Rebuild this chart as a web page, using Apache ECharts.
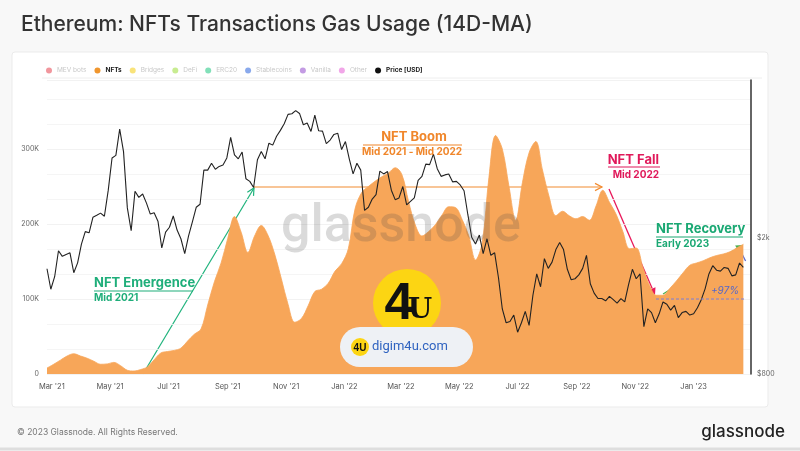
<!DOCTYPE html>
<html><head><meta charset="utf-8">
<script src="https://cdn.jsdelivr.net/npm/echarts@6/dist/echarts.min.js"></script>
<style>html,body{margin:0;padding:0;background:#f8f8f8}#c{width:800px;height:451px}</style>
</head><body><div id="c"></div>
<script>
// ---------- data ----------
const legendNames = ['MEV bots','NFTs','Bridges','DeFi','ERC20','Stablecoins','Vanilla','Other','Price [USD]'];
const legendColors = ['#e8505b','#f0962e','#f5d022','#a3e048','#2ecc8a','#3a6fe0','#9b59d0','#e86ad8','#111111'];
const activeNames = ['NFTs','Price [USD]'];

// NFT transactions gas usage (14D-MA), in thousands, weekly from start date
const nftStart = '2021-02-24';
const nftStepDays = 7;
const nftGasK = [
  8, 13, 18.5, 24, 27, 24, 21, 17, 13, 13.5,
  15.5, 11, 5, 4, 6, 9.5, 19, 28, 30, 31.5,
  34.5, 44, 53, 60, 92, 123, 148, 181, 210, 189,
  162, 184, 198, 185, 160, 127, 93, 69, 74, 91,
  110, 113, 121, 137, 147, 167, 220, 242, 250, 257,
  263, 268, 275, 266, 230, 199, 184, 190, 199, 212,
  223, 222, 206, 184, 152, 175, 262, 318, 300, 250,
  205, 255, 295, 310, 272, 236, 211, 217, 211, 207,
  210, 205, 224, 245, 229, 213, 190, 167, 168, 142,
  118, 105, 105, 114, 124, 135, 145, 148, 151, 155,
  158, 160, 163, 168, 173
];

// ETH price (USD), every 4 days from start date
const priceStart = '2021-02-24';
const priceStepDays = 4;
const priceUsd = [
  1626, 1416,
  1541, 1835, 1768, 1790, 1810, 1583, 1692,
  1919, 2088, 2072, 2300, 2330, 2365, 2316, 2756,
  3430, 3490, 4168, 3580, 2450, 2100, 2740, 2630,
  2690, 2530, 2350, 2370, 2240, 1870, 2080,
  2150, 2320, 2110, 1990, 1800, 2030, 2230, 2460,
  2510, 3160, 3160, 3310, 3180, 3240, 3270, 3430,
  3940, 3500, 3410, 3570, 2980, 2930, 2810,
  3390, 3580, 3410, 3790, 3740, 3970, 4130, 4320,
  4600, 4620, 4720, 4630, 4290, 4340, 4100,
  4580, 4120, 4110, 3780, 3870, 4020, 4050, 3630,
  3830, 3410, 3080, 3310, 3160, 2410, 2460, 2600,
  2680, 3140, 3080, 3130, 2760, 2590, 2620,
  2830, 2500, 2560, 2620, 2950, 3030, 3290, 3280,
  3520, 3190, 3030, 3060, 3080, 2920, 2930,
  2860, 2750, 2340, 2010, 1920, 2040, 1800, 1990,
  1780, 1810, 1530, 1240, 1130, 1140, 1190,
  1060, 1130, 1220, 1110, 1360, 1570, 1440, 1740,
  1630, 1700, 1850, 1940, 1850, 1620, 1510, 1520,
  1560, 1630, 1780, 1470, 1380, 1330, 1330,
  1310, 1350, 1320, 1290, 1330, 1300, 1460, 1620,
  1520, 1570, 1100, 1240, 1210, 1130, 1200, 1300,
  1280, 1230, 1270, 1170, 1210, 1220, 1190,
  1200, 1250, 1320, 1420, 1570, 1660, 1610, 1600,
  1640, 1630, 1550, 1560, 1690, 1640
];

const xTickDates = ['2021-03-01','2021-05-01','2021-07-01','2021-09-01','2021-11-01','2022-01-01',
  '2022-03-01','2022-05-01','2022-07-01','2022-09-01','2022-11-01','2023-01-01'];
const xMinDate = '2021-02-24';
const xMaxDate = '2023-03-02';
const leftTicks = [0, 100000, 200000, 300000];
const rightTicks = [800, 2000];
const monthNames = ['Jan','Feb','Mar','Apr','May','Jun','Jul','Aug','Sep','Oct','Nov','Dec'];

// ---------- helpers ----------
function pad(n){ return (n<10?'0':'')+n; }
function fmt(d){ return d.getFullYear()+'-'+pad(d.getMonth()+1)+'-'+pad(d.getDate()); }
function stepDate(s, i, step){ const p = s.split('-').map(Number); return fmt(new Date(p[0], p[1]-1, p[2] + i*step)); }

const days = [];
for (let i=0; ; i++){ const d = stepDate(xMinDate, i, 1); days.push(d); if (d===xMaxDate) break; }

const nftData = nftGasK.map((v,i)=>[stepDate(nftStart,i,nftStepDays), v*1000]);
const priceData = priceUsd.map((v,i)=>[stepDate(priceStart,i,priceStepDays), v]);

function arrow(x1,y1,x2,y2,color,w,filled){
  const a = Math.atan2(y2-y1, x2-x1), L = 7, H = 3.6;
  const bx = x2 - L*Math.cos(a), by = y2 - L*Math.sin(a);
  const p1 = [bx + H*Math.sin(a), by - H*Math.cos(a)];
  const p2 = [bx - H*Math.sin(a), by + H*Math.cos(a)];
  const els = [{type:'line', shape:{x1:x1,y1:y1,x2:filled?bx:x2,y2:filled?by:y2}, style:{stroke:color, lineWidth:w}}];
  if (filled) els.push({type:'polygon', shape:{points:[[x2,y2],p1,p2]}, style:{fill:color}});
  else els.push({type:'polyline', shape:{points:[p1,[x2,y2],p2]}, style:{stroke:color, lineWidth:w, fill:null}});
  return {type:'group', z:50, children:els};
}
function txt(x,y,t,size,color,weight,align,extra){
  return {type:'text', z:50, x:x, y:y, style:Object.assign({text:t, fontSize:size, fontFamily:'Inter, Roboto, sans-serif', fontWeight:weight||'normal', fill:color, align:align||'left', verticalAlign:'middle'}, extra||{})};
}
function hline(x1,x2,y,color,w,dash){
  return {type:'line', z:50, shape:{x1:x1,y1:y,x2:x2,y2:y}, style:{stroke:color, lineWidth:w||1, lineDash:dash||null}};
}

const chart = echarts.init(document.getElementById('c'), null, {renderer:'canvas'});

const legendSeries = legendNames.filter(n=>activeNames.indexOf(n)<0).map(n=>({
  name:n, type:'line', data:[], color: legendColors[legendNames.indexOf(n)], symbol:'circle'
}));

const option = {
  backgroundColor:'#f8f8f8',
  animation:false,
  title:{text:'Ethereum: NFTs Transactions Gas Usage (14D-MA)', left:16, top:9,
    textStyle:{fontFamily:'Inter, Roboto, sans-serif', fontSize:21, fontWeight:500, color:'#333'}},
  legend:{left:41, top:62, icon:'circle', itemWidth:6, itemHeight:6, itemGap:8, selectedMode:false,
    textStyle:{fontSize:6.5, color:'#c8c8c8', fontFamily:'Inter, Roboto, sans-serif'},
    data: legendNames.map((n,i)=>{
      const act = activeNames.indexOf(n)>=0;
      return {name:n, itemStyle:{color:legendColors[i], opacity: act?1:0.6},
        textStyle: act ? {color:'#222', fontWeight:'bold', fontSize:6.5} : {color:'#c8c8c8', fontSize:6.5}};
    })},
  grid:{left:47, right:49, top:80, bottom:77, containLabel:false},
  xAxis:{type:'category', data:days, boundaryGap:false,
    axisLine:{show:false}, axisTick:{show:false}, splitLine:{show:false},
    axisLabel:{interval:function(i,v){ return xTickDates.indexOf(v)>=0; }, fontSize:7.5, color:'#555', margin:9,
      fontFamily:'Inter, Roboto, sans-serif', hideOverlap:false,
      formatter:function(v){ const p=v.split('-'); return monthNames[+p[1]-1]+" '"+p[0].slice(2); }}},
  yAxis:[
    {type:'value', min:0, max:392000, interval:100000,
      axisLine:{show:false}, axisTick:{show:false},
      splitLine:{show:true, lineStyle:{color:'#efefef', width:0.8}},
      minorTick:{show:false, splitNumber:3},
      minorSplitLine:{show:true, lineStyle:{color:'#f2f2f2', width:0.8}},
      axisLabel:{fontSize:7, color:'#666', margin:8, fontFamily:'Inter, Roboto, sans-serif',
        formatter:function(v){ if (leftTicks.indexOf(v)<0) return ''; return v===0?'0':(v/1000)+'K'; }}},
    {type:'log', logBase:10, min:800, max:5800, position:'right',
      axisLine:{show:true, lineStyle:{color:'#333', width:1.5}}, axisTick:{show:false}, splitLine:{show:false},
      axisLabel:{customValues:rightTicks, fontSize:7, color:'#666', margin:6, fontFamily:'Inter, Roboto, sans-serif',
        formatter:function(v){ return v>=1000 ? '$'+Math.round(v/1000)+'k' : '$'+Math.round(v); }}}
  ],
  series:[
    {name:'NFTs', type:'line', yAxisIndex:0, data:nftData, smooth:0.35, symbol:'none', color:'#f0962e',
      lineStyle:{width:0.8, color:'#f7a659'}, areaStyle:{color:'#f7a659', opacity:1}, z:2}
  ].concat(legendSeries).concat([
    {name:'Price [USD]', type:'line', yAxisIndex:1, data:priceData, symbol:'none', color:'#111',
      lineStyle:{width:1.1, color:'#222'}, z:3}
  ]),
  graphic:[
    {type:'rect', z:-10, shape:{x:12,y:52,width:756,height:355,r:3}, style:{fill:'#ffffff', stroke:'#ebebeb', lineWidth:1}},
    {type:'line', z:-9, shape:{x1:42,y1:78,x2:762,y2:78}, style:{stroke:'#eeeeee', lineWidth:1}},
    {type:'line', z:-9, shape:{x1:0,y1:449,x2:800,y2:449}, style:{stroke:'#dedede', lineWidth:3}},
    {type:'text', x:17, y:432, style:{text:'© 2023 Glassnode. All Rights Reserved.', fontSize:8.5, fill:'#777', fontFamily:'Inter, Roboto, sans-serif', verticalAlign:'middle'}},
    {type:'text', x:785, y:432, style:{text:'glassnode', fontSize:17, fill:'#222', fontFamily:'Inter, Roboto, sans-serif', fontWeight:500, align:'right', verticalAlign:'middle'}},
    {type:'text', z:40, x:401, y:228, style:{text:'glassnode', fontSize:52, fill:'rgba(70,70,70,0.2)', fontFamily:'Roboto, Inter, sans-serif', fontWeight:500, align:'center', verticalAlign:'middle'}},
    arrow(143,374,254,188,'#1fb37c',1.2,false),
    txt(94,283,'NFT Emergence',13,'#1fae7a','bold'),
    hline(94,193,291,'#1fae7a',1.2),
    txt(94,298,'Mid 2021',10,'#1fae7a','bold'),
    arrow(254,187,602,187,'#f28b30',1.2,false),
    txt(414,137,'NFT Boom',13,'#f0862a','bold','center'),
    hline(363,462,145,'#f0862a',1.2),
    txt(412,152,'Mid 2021 - Mid 2022',10,'#f0862a','bold','center'),
    arrow(609,189,655,295,'#e8195a',1.3,true),
    txt(659,160,'NFT Fall',13,'#e0195a','bold','right'),
    hline(608,660,167,'#e0195a',1.2),
    txt(659,175,'Mid 2022',10,'#e0195a','bold','right'),
    arrow(663,294,743,245,'#4caf50',1.3,true),
    txt(656,229,'NFT Recovery',13,'#1aa873','bold'),
    hline(656,743,237,'#1aa873',1.2),
    txt(656,244,'Early 2023',10,'#1aa873','bold'),
    hline(656,745,299,'#7c7fd6',1,[3,2]),
    arrow(742,300,742,254,'#5b6ad0',1.3,false),
    txt(739,291,'+97%',10,'#5567c9','normal','right',{fontStyle:'italic'}),
    {type:'circle', z:60, shape:{cx:407,cy:303,r:34}, style:{fill:'#fcd513'}},
    {type:'text', z:61, x:399, y:305, style:{text:'4', fontSize:52, fontWeight:'bold', fill:'#111', fontFamily:'Liberation Sans, Arial, sans-serif', align:'center', verticalAlign:'middle'}},
    {type:'text', z:61, x:420, y:311, style:{text:'U', fontSize:28, fontWeight:'bold', fill:'#111', fontFamily:'DejaVu Serif, Liberation Serif, serif', align:'center', verticalAlign:'middle'}},
    {type:'rect', z:62, shape:{x:340,y:327,width:133,height:40,r:20}, style:{fill:'#eef1f5'}},
    {type:'circle', z:63, shape:{cx:360,cy:347,r:9}, style:{fill:'#fcd513'}},
    {type:'text', z:64, x:360, y:348, style:{text:'4U', fontSize:10, fontWeight:'bold', fill:'#111', fontFamily:'Liberation Sans, Arial, sans-serif', align:'center', verticalAlign:'middle'}},
    {type:'text', z:64, x:372, y:347, style:{text:'digim4u.com', fontSize:13, fill:'#2f63c0', fontFamily:'Roboto, Inter, sans-serif', verticalAlign:'middle'}}
  ]
};
chart.setOption(option);
</script>
</body></html>
